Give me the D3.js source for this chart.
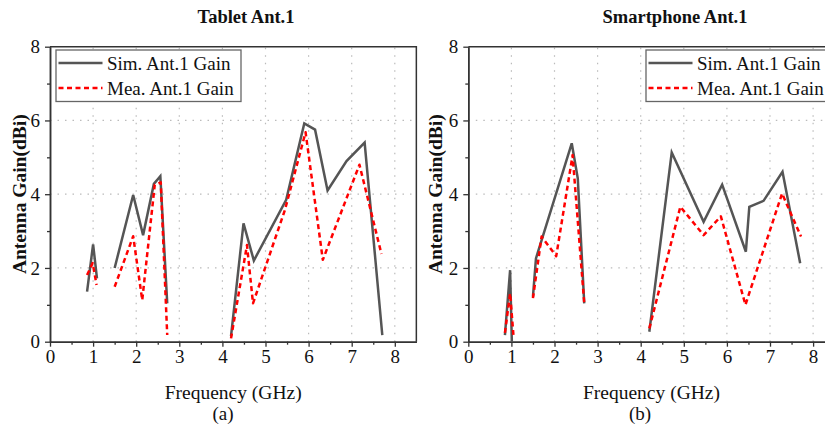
<!DOCTYPE html>
<html>
<head>
<meta charset="utf-8">
<script src="https://cdn.jsdelivr.net/npm/d3@7"></script>
<style>
  body { margin: 0; background: #fff; }
  svg { display: block; }
  text { font-family: "Liberation Serif", "Times New Roman", serif; fill: #111; }
</style>
</head>
<body>
<svg id="chart" width="825" height="428"></svg>
<script>
// values, null = gap in the curve
var tabletSimFreq = [0.86, 1.0, 1.09, null, 1.5, 1.93, 2.16, 2.41, 2.56, 2.72, null, 4.2, 4.49, 4.73, 5.48, 5.90, 6.15, 6.44, 6.88, 7.30, 7.71]
var tabletSimGain = [1.36, 2.64, 1.72, null, 2.0, 3.98, 2.89, 4.28, 4.49, 1.04, null, 0.15, 3.21, 2.2, 3.85, 5.92, 5.75, 4.1, 4.9, 5.40, 0.18]
var tabletMeaFreq = [0.86, 0.99, 1.08, null, 1.5, 1.93, 2.14, 2.43, 2.57, 2.72, null, 4.2, 4.57, 4.71, 5.45, 5.93, 6.33, 7.18, 7.69]
var tabletMeaGain = [1.81, 2.13, 1.54, null, 1.49, 2.86, 1.13, 4.25, 4.32, 0.18, null, 0.09, 2.62, 1.04, 3.57, 5.68, 2.22, 4.80, 2.38]

var phoneSimFreq = [0.85, 0.97, 1.01, null, 1.5, 1.57, 2.40, 2.54, 2.69, null, 4.2, 4.72, 5.46, 5.89, 6.44, 6.52, 6.85, 7.29, 7.70]
var phoneSimGain = [0.18, 1.94, 0.0, null, 1.22, 2.26, 5.38, 4.43, 1.04, null, 0.27, 5.13, 3.25, 4.26, 2.44, 3.66, 3.82, 4.61, 2.13]
var phoneMeaFreq = [0.85, 0.97, 1.05, null, 1.5, 1.70, 2.04, 2.42, 2.69, null, 4.2, 4.92, 5.46, 5.86, 6.43, 7.28, 7.72]
var phoneMeaGain = [0.24, 1.31, 0.14, null, 1.18, 2.85, 2.32, 5.06, 1.04, null, 0.36, 3.66, 2.89, 3.40, 1.0, 4.02, 2.85]

var xTicks = [0, 1, 2, 3, 4, 5, 6, 7, 8]
var yTicks = [0, 2, 4, 6, 8]
var seriesNames = ["Sim. Ant.1 Gain", "Mea. Ant.1 Gain"]

var serif = "'Liberation Serif', 'Times New Roman', serif"
var svg = d3.select("#chart")

function pairs(fs, gs) {
    return fs.map(function (f, i) { return { f: f, g: gs[i] } })
}

function drawPanel(p) {
    var x = d3.scaleLinear().domain([0, 8.5]).range([p.left, p.left + 8.5 * 43.1])
    var y = d3.scaleLinear().domain([0, 8]).range([341.7, 46.7])
    var g = svg.append("g")

    // dotted grid
    g.selectAll(".vg").data(xTicks.slice(1)).enter().append("line")
        .attr("x1", function (d) { return x(d) }).attr("x2", function (d) { return x(d) })
        .attr("y1", y(0)).attr("y2", y(8))
        .attr("stroke", "#bbb").attr("stroke-width", 1.2).attr("stroke-dasharray", "1.5,6")
    g.selectAll(".hg").data([2, 4, 6]).enter().append("line")
        .attr("x1", x(0)).attr("x2", x(8.5))
        .attr("y1", function (d) { return y(d) }).attr("y2", function (d) { return y(d) })
        .attr("stroke", "#bbb").attr("stroke-width", 1.2).attr("stroke-dasharray", "1.5,6")

    // frame top + right
    g.append("path")
        .attr("d", "M" + x(0) + "," + y(8) + "H" + x(8.5) + "V" + y(0))
        .attr("fill", "none").attr("stroke", "#333").attr("stroke-width", 1.5)

    // axes
    var minorX = d3.range(0.5, 8.5, 1)
    var minorY = [1, 3, 5, 7]
    var axes = [
        g.append("g").attr("transform", "translate(0," + y(0) + ")")
            .call(d3.axisBottom(x).tickValues(xTicks).tickSize(5).tickSizeOuter(0).tickPadding(3)),
        g.append("g").attr("transform", "translate(0," + y(0) + ")")
            .call(d3.axisBottom(x).tickValues(minorX).tickSize(3).tickFormat("").tickSizeOuter(0)),
        g.append("g").attr("transform", "translate(" + x(0) + ",0)")
            .call(d3.axisLeft(y).tickValues(yTicks).tickSize(5).tickSizeOuter(0).tickPadding(5)),
        g.append("g").attr("transform", "translate(" + x(0) + ",0)")
            .call(d3.axisLeft(y).tickValues(minorY).tickSize(3).tickFormat("").tickSizeOuter(0))
    ]
    axes.forEach(function (a) {
        a.attr("font-family", serif).attr("font-size", 19)
    })
    g.selectAll(".domain").attr("stroke", "#333").attr("stroke-width", 1.5)
    g.selectAll(".tick line").attr("stroke", "#333").attr("stroke-width", 1.3)
    g.selectAll(".tick text")
        .style("font-size", "19px").style("font-family", serif).style("fill", "#111")

    // curves
    var line = d3.line()
        .defined(function (d) { return d.g != null })
        .x(function (d) { return x(d.f) })
        .y(function (d) { return y(d.g) })
    g.append("path").datum(pairs(p.simF, p.simG)).attr("d", line)
        .attr("fill", "none").attr("stroke", "#555").attr("stroke-width", 2.5)
    g.append("path").datum(pairs(p.meaF, p.meaG)).attr("d", line)
        .attr("fill", "none").attr("stroke", "#ff0000").attr("stroke-width", 2.5)
        .attr("stroke-dasharray", "5,3.5").attr("stroke-linejoin", "round")

    // legend
    var lg = g.append("g").attr("transform", "translate(" + p.legX + ",50)")
    lg.append("rect").attr("width", 185).attr("height", 51.5)
        .attr("fill", "#fff").attr("stroke", "#666").attr("stroke-width", 1.3)
    seriesNames.forEach(function (name, i) {
        var ly = 13 + i * 25
        lg.append("line").attr("x1", 2.5).attr("x2", 46.5).attr("y1", ly).attr("y2", ly)
            .attr("stroke", i == 0 ? "#555" : "#ff0000").attr("stroke-width", 2.5)
            .attr("stroke-dasharray", i == 0 ? null : "5,3.5")
        lg.append("text").attr("x", 51).attr("y", ly + 6.5)
            .style("font-size", "19px").text(name)
    })

    // titles and labels
    svg.append("text").attr("x", p.titleX).attr("y", 23).attr("text-anchor", "middle")
        .style("font-size", "18.5px").style("font-weight", "bold").text(p.title)
    svg.append("text").attr("x", (x(0) + x(8.5)) / 2).attr("y", 399)
        .attr("text-anchor", "middle").style("font-size", "19.5px").text("Frequency (GHz)")
    svg.append("text").attr("x", p.capX).attr("y", 420)
        .attr("text-anchor", "middle").style("font-size", "19px").text(p.caption)
    svg.append("text")
        .attr("transform", "translate(" + p.yLabX + "," + (y(4)) + ") rotate(-90)")
        .attr("text-anchor", "middle").style("font-size", "19.5px").style("font-weight", "bold")
        .text("Antenna Gain(dBi)")
}

drawPanel({
    left: 50, title: "Tablet Ant.1", titleX: 246, caption: "(a)", capX: 223, yLabX: 25.5, legX: 56,
    simF: tabletSimFreq, simG: tabletSimGain, meaF: tabletMeaFreq, meaG: tabletMeaGain
})
drawPanel({
    left: 468.3, title: "Smartphone Ant.1", titleX: 675, caption: "(b)", capX: 640, yLabX: 441.5, legX: 646,
    simF: phoneSimFreq, simG: phoneSimGain, meaF: phoneMeaFreq, meaG: phoneMeaGain
})
</script>
</body>
</html>
